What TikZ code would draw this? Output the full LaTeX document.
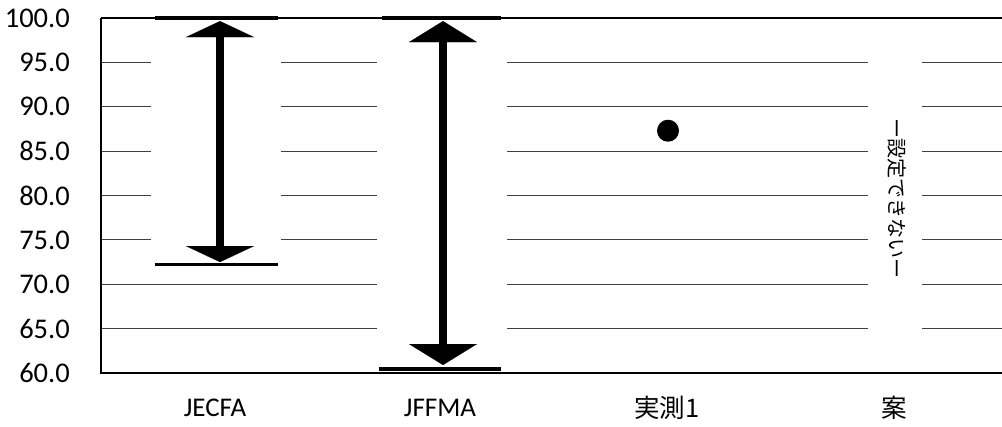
\documentclass[tikz,border=0pt]{standalone}
\usepackage{fontspec}
\setmainfont{Carlito}
\newfontfamily\jp{Noto Sans CJK JP}
\usetikzlibrary{arrows.meta}

\tikzset{
  ylab/.style={anchor=east, inner sep=0pt, font=\fontsize{28.5}{32}\selectfont},
  xlab/.style={inner sep=0pt, font=\fontsize{27}{30}\selectfont},
  gridline/.style={black!75, line width=0.9pt},
  axisline/.style={black, line width=1.3pt},
  gapbox/.style={fill=white, draw=none},
  capline/.style={black, line width=3.5pt},
  rangearrow/.style={black, line width=7.5pt,
    {Triangle[width=68pt, length=#1, line width=0.1pt]}-{Triangle[width=68pt, length=#1, line width=0.1pt]}}
}

\begin{document}
\begin{tikzpicture}[x=1pt, y=8.875pt]
  \useasboundingbox (0,54.03) rectangle (1002,102.03);
  % y axis labels
  \node [ylab] (t100) at (70,100) {100.0};
  \node [ylab] (t95) at (70,95) {95.0};
  \node [ylab] (t90) at (70,90) {90.0};
  \node [ylab] (t85) at (70,85) {85.0};
  \node [ylab] (t80) at (70,80) {80.0};
  \node [ylab] (t75) at (70,75) {75.0};
  \node [ylab] (t70) at (70,70) {70.0};
  \node [ylab] (t65) at (70,65) {65.0};
  \node [ylab] (t60) at (70,60) {60.0};
  % grid
  \draw [gridline] (101,95) -- (1002,95);
  \draw [gridline] (101,90) -- (1002,90);
  \draw [gridline] (101,85) -- (1002,85);
  \draw [gridline] (101,80) -- (1002,80);
  \draw [gridline] (101,75) -- (1002,75);
  \draw [gridline] (101,70) -- (1002,70);
  \draw [gridline] (101,65) -- (1002,65);
  % white bars
  \fill [gapbox] (151,72.2) rectangle (281,100);
  \fill [gapbox] (377,60.4) rectangle (507,100);
  \fill [gapbox] (868,60) rectangle (922,100);
  % axes
  \draw [axisline] (101,100) -- (101,60) -- (1002,60);
  \draw [axisline] (101,100) -- (1002,100);
  % JECFA
  \coordinate (jt) at (220,99.65);
  \coordinate (jb) at (220,72.5);
  \draw [capline] (155,100) -- (278,100);
  \draw [capline] (155,72.2) -- (278,72.2);
  \draw [rangearrow=16pt] (jt) -- (jb);
  % JFFMA
  \coordinate (ft) at (443,99.65);
  \coordinate (fb) at (443,60.9);
  \draw [capline] (382,100) -- (501,100);
  \draw [capline] (379,60.45) -- (501,60.45);
  \draw [rangearrow=21pt] (ft) -- (fb);
  % measured
  \node [circle, fill=black, inner sep=0pt, minimum size=22pt] (m1) at (668,87.3) {};
  % note
  \node [rotate=-90, inner sep=0pt, font=\jp\fontsize{20}{22}\selectfont] (na) at (897,79.7) {ー設定できないー};
  % categories
  \node [xlab] (c1) at (215,56.06) {JECFA};
  \node [xlab] (c2) at (440,56.06) {JFFMA};
  \node [xlab, font=\jp\fontsize{25.5}{28}\selectfont] (c3) at (667,56.06) {実測1};
  \node [xlab, font=\jp\fontsize{25.5}{28}\selectfont] (c4) at (894,56.06) {案};
\end{tikzpicture}
\end{document}
